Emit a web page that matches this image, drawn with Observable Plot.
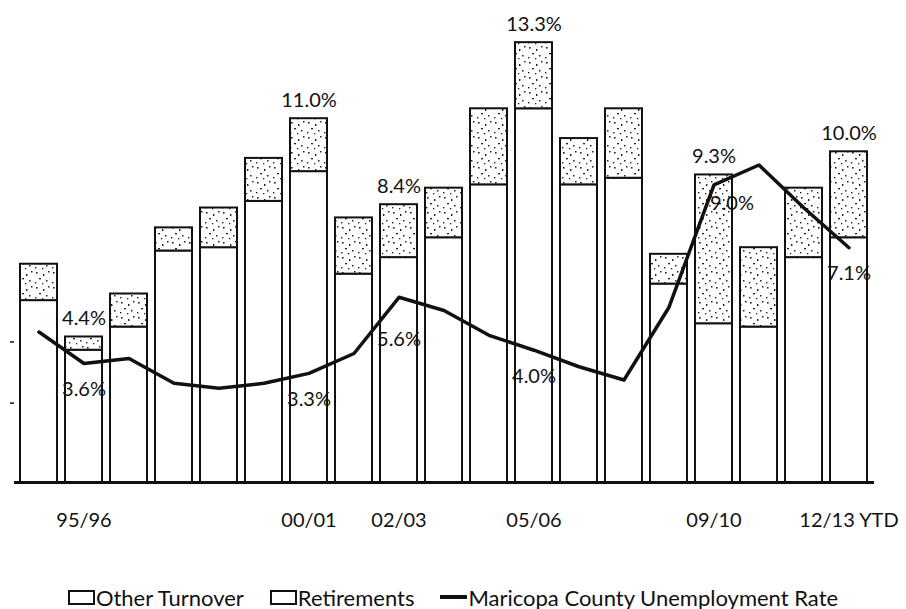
<!DOCTYPE html>
<html><head><meta charset="utf-8">
<script src="https://cdn.jsdelivr.net/npm/d3@7"></script>
<script src="https://cdn.jsdelivr.net/npm/@observablehq/plot@0.6"></script>
<style>
body{margin:0;background:#fff;font-family:Lato,"Open Sans",sans-serif;}
#chart svg{display:block;}
#legend{display:flex;align-items:center;justify-content:center;padding-right:0;margin-top:4px;height:26px;font-size:22px;color:#111;}
#legend .item{display:flex;align-items:center;margin:0 13px;}
#legend .sq{display:inline-block;width:23px;height:11px;border:2px solid #111;background:#fff;margin-right:1px;}
#legend .ln{display:inline-block;width:27px;height:4px;background:#111;margin-right:1px;}
</style></head><body>
<div id="chart"></div>
<div id="legend">
  <span class="item"><span class="sq"></span>Other Turnover</span>
  <span class="item"><span class="sq"></span>Retirements</span>
  <span class="item"><span class="ln"></span>Maricopa County Unemployment Rate</span>
</div>
<script>
const years = ["94/95","95/96","96/97","97/98","98/99","99/00","00/01","01/02","02/03","03/04","04/05","05/06","06/07","07/08","08/09","09/10","10/11","11/12","12/13 YTD"];
const otherTurnover = [5.5,4.0,4.7,7.0,7.1,8.5,9.4,6.3,6.8,7.4,9.0,11.3,9.0,9.2,6.0,4.8,4.7,6.8,7.4];
const retirements   = [1.1,0.4,1.0,0.7,1.2,1.3,1.6,1.7,1.6,1.5,2.3,2.0,1.4,2.1,0.9,4.5,2.4,2.1,2.6];
const unemployment  = [4.55,3.6,3.75,3.0,2.85,3.0,3.3,3.9,5.6,5.2,4.45,4.0,3.5,3.1,5.3,9.0,9.6,8.3,7.1];
const shownTicks = ["95/96","00/01","02/03","05/06","09/10","12/13 YTD"];
const totalLabelYears = ["95/96","00/01","02/03","05/06","09/10","12/13 YTD"];
const rateLabelYears = ["95/96","00/01","02/03","05/06","09/10","12/13 YTD"];
const yTicks = [2.4, 4.25];

const rows = years.map((year, i) => ({
  year,
  other: otherTurnover[i],
  ret: retirements[i],
  total: +(otherTurnover[i] + retirements[i]).toFixed(1),
  rate: unemployment[i]
}));
const fmt = v => v.toFixed(1) + "%";
const rateRows = rows.filter(d => rateLabelYears.includes(d.year));

const chart = Plot.plot({
  width: 906, height: 580,
  marginLeft: 14, marginRight: 32, marginTop: 19, marginBottom: 98,
  style: {fontFamily: "Lato, 'Open Sans', sans-serif", fontSize: "19px", color: "#111", background: "#fff"},
  x: {domain: years, paddingInner: 0.17, paddingOuter: 0, label: null},
  y: {domain: [0, 14], label: null},
  marks: [
    Plot.barY(rows, {x: "year", y1: 0, y2: "other", fill: "white", stroke: "#111", strokeWidth: 2}),
    Plot.barY(rows, {x: "year", y1: "other", y2: "total", fill: "url(#stipple)", stroke: "#111", strokeWidth: 2}),
    Plot.axisX({tickSize: 0, tickPadding: 30, fontSize: 20, tickFormat: d => shownTicks.includes(d) ? d : ""}),
    Plot.axisY({ticks: yTicks, tickFormat: () => "", tickSize: 4, stroke: "#111", strokeWidth: 1.5}),
    Plot.ruleY([0], {stroke: "#111", strokeWidth: 3}),
    Plot.line(rows, {x: "year", y: "rate", stroke: "#111", strokeWidth: 3.5}),
    Plot.text(rows.filter(d => totalLabelYears.includes(d.year)), {x: "year", y: "total", text: d => fmt(d.total), dy: -18, fontSize: 20, fill: "#111"}),
    Plot.text(rateRows.filter(d => d.year !== "02/03" && d.year !== "09/10"), {x: "year", y: "rate", text: d => fmt(d.rate), dy: 26, fontSize: 20, fill: "#111"}),
    Plot.text(rateRows.filter(d => d.year === "02/03"), {x: "year", y: "rate", text: d => fmt(d.rate), dy: 42, fontSize: 20, fill: "#111"}),
    Plot.text(rateRows.filter(d => d.year === "09/10"), {x: "year", y: "rate", text: d => fmt(d.rate), dx: 18, dy: 19, fontSize: 20, fill: "#111"})
  ]
});

const ns = "http://www.w3.org/2000/svg";
const defs = document.createElementNS(ns, "defs");
defs.innerHTML = `<pattern id="stipple" width="17" height="15" patternUnits="userSpaceOnUse">
<rect width="17" height="15" fill="white"/>
<rect x="2" y="2" width="1.6" height="1.6" fill="#222"/>
<rect x="9" y="4" width="1.4" height="2" fill="#222"/>
<rect x="14" y="1" width="1.5" height="1.5" fill="#222"/>
<rect x="5" y="8" width="2" height="1.3" fill="#222"/>
<rect x="12" y="10" width="1.5" height="1.5" fill="#222"/>
<rect x="1" y="12" width="1.4" height="1.4" fill="#222"/>
<rect x="8" y="13" width="1.3" height="1.3" fill="#222"/>
</pattern>`;
chart.insertBefore(defs, chart.firstChild);
document.getElementById("chart").appendChild(chart);
</script>
</body></html>
